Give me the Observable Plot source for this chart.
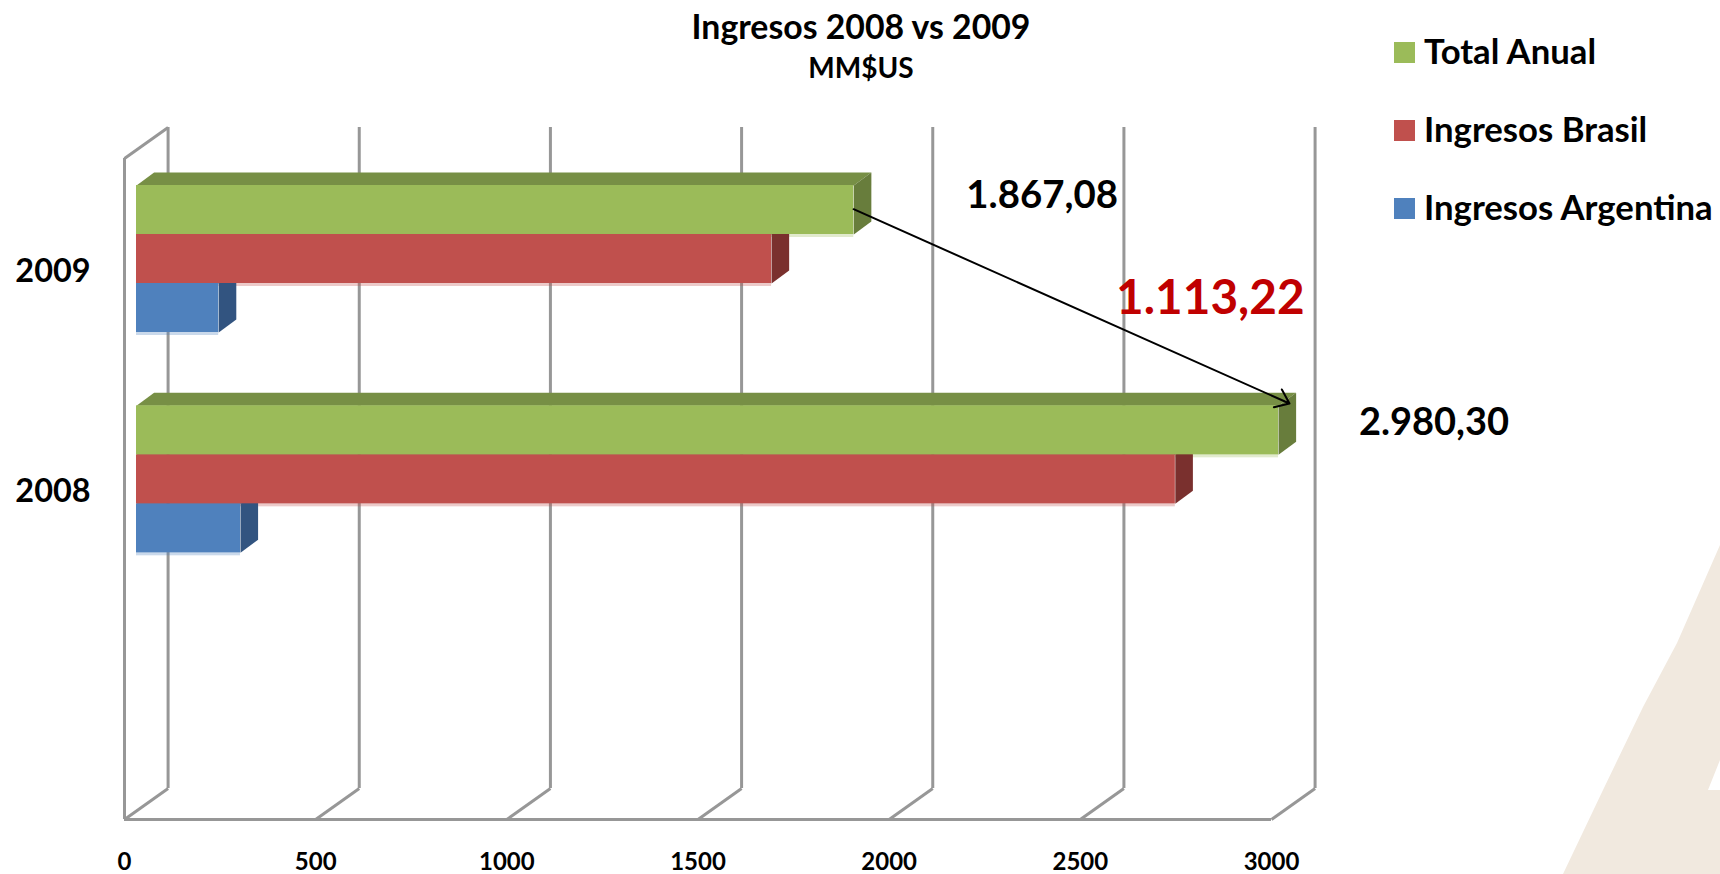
<!DOCTYPE html>
<html><head><meta charset="utf-8">
<script src="https://cdn.jsdelivr.net/npm/d3@7"></script>
<script src="https://cdn.jsdelivr.net/npm/@observablehq/plot@0.6"></script>
<style>
html,body{margin:0;padding:0;background:#fff;width:1720px;height:874px;overflow:hidden;font-family:Lato,"Open Sans",sans-serif;font-weight:700;color:#000}
#page{position:relative;width:1720px;height:874px}
#bg{position:absolute;inset:0;background:#F1E9DF;clip-path:polygon(1720px 545px,1677px 643px,1643px 707px,1603px 790px,1563px 874px,1720px 874px,1720px 790px,1708px 790px,1720px 760px)}
#chart{position:absolute;left:0;top:0}
.t{position:absolute;white-space:nowrap}
.lg{position:absolute;left:1394px;white-space:nowrap;font-size:34.7px;line-height:36px;height:36px}
.lg i{position:absolute;left:0;top:7px;width:21px;height:21px}
.lg span{position:absolute;left:30px;top:-2px}
</style></head><body><div id="page"><div id="bg"></div><div id="chart"></div>
<div class="t" style="left:0;width:1722px;text-align:center;top:7px;font-size:33.8px;line-height:38px">Ingresos 2008 vs 2009</div>
<div class="t" style="left:0;width:1722px;text-align:center;top:51px;font-size:28px;line-height:32px">MM$US</div>
<div id="legend"></div></div>
<script>
const years = ["2009", "2008"];
const seriesNames = ["Total Anual", "Ingresos Brasil", "Ingresos Argentina"];
const totalAnual = [1876, 2987];
const ingresosBrasil = [1661, 2717];
const ingresosArgentina = [215, 272];
const seriesValues = [totalAnual, ingresosBrasil, ingresosArgentina];
const frontColors = ["#9BBB59", "#C0504D", "#4F81BD"];
const topColors = ["#778F45", "#943D3B", "#3D6592"];
const sideColors = ["#687D3C", "#7A302E", "#325480"];
const xTicks = [0, 500, 1000, 1500, 2000, 2500, 3000];
const callouts = ["1.867,08", "1.113,22", "2.980,30"];
const calloutX = [2400, 2840, 3425];
const calloutY = [0.17, 0.635, 1.20];
const calloutSize = [38.4, 47.7, 38];
const calloutColor = ["#000", "#C00000", "#000"];

// chart geometry in scale units
const wallX = 114, wallY = 0.141;
const barStart = 31.4, barDepthX = 46, barDepthY = 0.059;
const barTop = 0.1225, barH = 0.2224;

const fronts = [], faces = [];
seriesValues.forEach((vals, s) => vals.forEach((v, c) => {
  const y1 = c + barTop + s * barH, y2 = y1 + barH, x1 = barStart, x2 = barStart + v;
  fronts.push({s, x1, x2, y1, y2, fill: frontColors[s]});
  const poly = (id, fill, pts) => pts.forEach(([x, y]) => faces.push({id: `${id}${s}${c}`, s, fill, x, y}));
  poly("top", topColors[s], [[x1,y1],[x2,y1],[x2+barDepthX,y1-barDepthY],[x1+barDepthX,y1-barDepthY]]);
  poly("side", sideColors[s], [[x2,y1],[x2+barDepthX,y1-barDepthY],[x2+barDepthX,y2-barDepthY],[x2,y2]]);
}));

const grid = {stroke: "#979797", strokeWidth: 3};
const barLayers = [2, 1, 0].flatMap(s => [
  Plot.line(faces.filter(d => d.s === s), {x: "x", y: "y", z: "id", fill: "fill", stroke: null}),
  Plot.rect(fronts.filter(d => d.s === s), {x1: "x1", x2: "x2", y1: "y1", y2: "y2", fill: "fill", inset: 0})
]);

const plot = Plot.plot({
  width: 1720, height: 874,
  marginLeft: 124, marginRight: 449, marginTop: 158, marginBottom: 55,
  style: {background: "transparent", fontFamily: "Lato, sans-serif", fontWeight: 700, color: "#000"},
  x: {domain: [0, 3000]},
  y: {domain: [3, 0]},
  color: {type: "identity"},
  marks: [
    Plot.ruleX(xTicks, {x: d => d + wallX, y1: wallY * -1, y2: 3 - wallY, ...grid}),
    Plot.link(xTicks, {x1: d => d, y1: 3, x2: d => d + wallX, y2: 3 - wallY, ...grid}),
    Plot.link([0], {x1: 0, y1: 0, x2: wallX, y2: -wallY, ...grid}),
    Plot.ruleX([0], {y1: 0, y2: 3, ...grid}),
    Plot.ruleY([3], {x1: 0, x2: 3000, ...grid}),
    Plot.rect(fronts, {x1: "x1", x2: "x2", y1: "y1", y2: "y2", fill: "fill", fillOpacity: 0.3, dy: 3}),
    ...barLayers,
    Plot.arrow([0], {x1: 1907, y1: 0.23, x2: 3047, y2: 1.112, bend: 0, stroke: "#000", strokeWidth: 2, headLength: 12, headAngle: 75}),
    Plot.text(callouts, {x: (d, i) => calloutX[i], y: (d, i) => calloutY[i], text: d => d, fill: (d, i) => calloutColor[i], fontSize: (d, i) => calloutSize[i], fontWeight: 700}),
    Plot.axisX({anchor: "bottom", ticks: xTicks, tickSize: 0, tickPadding: 33, fontSize: 24, label: null, fontWeight: 700, tickFormat: d => String(d)}),
    Plot.axisY({anchor: "left", ticks: [0.515, 1.51], tickSize: 0, tickPadding: 34, fontSize: 32.4, label: null, fontWeight: 700, tickFormat: d => years[Math.floor(d)]})
  ]
});
document.getElementById("chart").append(plot);
const legend = document.getElementById("legend");
seriesNames.forEach((n, i) => {
  const el = document.createElement("div");
  el.className = "lg";
  el.style.top = (35 + i * 78) + "px";
  el.innerHTML = `<i style="background:${frontColors[i]}"></i><span>${n}</span>`;
  legend.append(el);
});
</script></body></html>
